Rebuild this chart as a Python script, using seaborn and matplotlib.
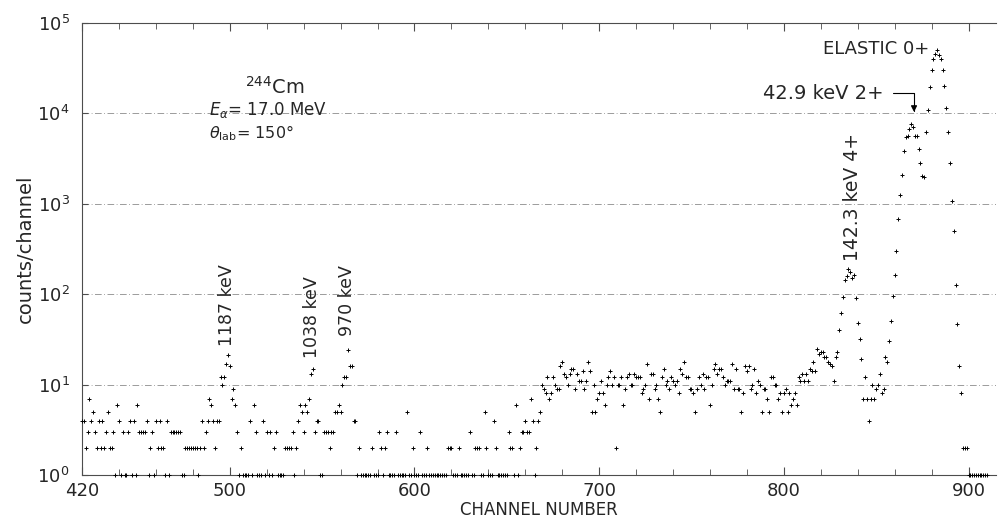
import numpy as np
import pandas as pd
import matplotlib
matplotlib.use("Agg")
import matplotlib.pyplot as plt
from matplotlib.ticker import NullLocator
import seaborn as sns

# counts per channel, starting at channel 420
FIRST_CHANNEL = 420
COUNTS = [
    4, 4, 2, 3, 7, 4, 5, 3, 2, 4,            # 420
    2, 4, 2, 3, 5, 2, 2, 3, 1, 6,            # 430
    4, 1, 3, 1, 1, 3, 4, 1, 4, 1,            # 440
    6, 3, 3, 3, 3, 4, 1, 2, 3, 1,            # 450
    4, 2, 4, 2, 2, 1, 4, 1, 3, 3,            # 460
    3, 3, 3, 3, 1, 1, 2, 2, 2, 2,            # 470
    2, 2, 2, 1, 2, 4, 2, 3, 4, 7,            # 480
    6, 4, 2, 4, 4, 12, 10, 12, 17, 21,       # 490
    16, 7, 9, 6, 3, 1, 2, 1, 1, 1,           # 500
    1, 4, 1, 6, 3, 1, 1, 1, 4, 1,            # 510
    3, 1, 3, 1, 2, 3, 1, 1, 1, 1,            # 520
    2, 2, 2, 2, 3, 1, 2, 4, 6, 5,            # 530
    3, 6, 5, 7, 13, 15, 3, 4, 4, 1,          # 540
    1, 3, 3, 3, 2, 3, 3, 5, 5, 6,            # 550
    5, 10, 12, 12, 24, 16, 16, 4, 4, 1,      # 560
    2, 1, 1, 1, 1, 1, 1, 2, 1, 1,            # 570
    1, 3, 2, 1, 2, 3, 1, 1, 1, 1,            # 580
    3, 1, 1, 1, 1, 1, 5, 1, 1, 2,            # 590
    1, 1, 1, 3, 1, 1, 1, 2, 1, 1,            # 600
    1, 1, 1, 1, 1, 1, 1, 1, 2, 2,            # 610
    2, 1, 1, 1, 2, 1, 1, 1, 1, 1,            # 620
    3, 1, 1, 2, 2, 2, 1, 1, 5, 2,            # 630
    1, 1, 1, 4, 2, 1, 1, 1, 1, 1,            # 640
    1, 3, 2, 2, 1, 6, 1, 2, 3, 3,            # 650
    4, 3, 3, 7, 4, 1, 2, 4, 5, 10,           # 660
    9, 8, 12, 7, 8, 12, 10, 9, 9, 16,        # 670
    18, 13, 12, 10, 13, 15, 15, 9, 13, 11,   # 680
    11, 14, 9, 11, 18, 14, 5, 10, 5, 7,      # 690
    8, 11, 8, 6, 10, 12, 14, 10, 12, 2,      # 700
    10, 10, 12, 6, 9, 12, 13, 10, 10, 13,    # 710
    12, 12, 12, 8, 9, 10, 17, 7, 13, 13,     # 720
    9, 10, 7, 5, 12, 15, 10, 11, 9, 12,      # 730
    11, 10, 11, 8, 15, 13, 18, 12, 12, 9,    # 740
    9, 8, 5, 9, 12, 10, 13, 9, 12, 12,       # 750
    6, 10, 15, 17, 13, 15, 15, 12, 10, 11,   # 760
    11, 11, 17, 9, 15, 9, 9, 5, 8, 16,       # 770
    14, 16, 9, 10, 15, 8, 11, 10, 5, 9,      # 780
    9, 7, 5, 12, 12, 10, 10, 7, 8, 5,        # 790
    8, 9, 5, 8, 6, 7, 8, 6, 12, 11,          # 800
    13, 11, 13, 11, 15, 14, 18, 14, 25, 22,  # 810
    23, 23, 20, 20, 18, 17, 16, 11, 20, 23,  # 820
    40, 62, 93, 145, 160, 190, 175, 150, 165, 90,        # 830
    48, 32, 19, 7, 12, 7, 4, 7, 10, 7,                   # 840
    9, 10, 13, 8, 9, 20, 18, 30, 51, 96,                 # 850
    165, 300, 680, 1250, 2100, 3800, 5500, 5700, 6800, 7600,          # 860
    7100, 5700, 5600, 4000, 2800, 2050, 2000, 6300, 11000, 19500,     # 870
    30000, 40000, 45000, 50000, 44000, 40000, 30000, 20000, 11500, 6300,  # 880
    2800, 1070, 500, 125, 47, 16, 8, 2, 2, 2,            # 890
    1, 1, 1, 1, 1, 1, 1, 1, 1, 1, 1,                     # 900
]
CHANNELS = np.arange(FIRST_CHANNEL, FIRST_CHANNEL + len(COUNTS))

X_TICKS = [420, 500, 600, 700, 800, 900]
X_MINOR = list(range(440, 915, 20))
Y_TICKS = [1, 10, 100, 1000, 10000, 100000]

sns.set_style("ticks")
plt.rcParams["font.family"] = ["DejaVu Sans"]
plt.rcParams["mathtext.fontset"] = "dejavusans"

df = pd.DataFrame({"channel": CHANNELS, "counts": COUNTS})

fig = plt.figure(figsize=(9.98, 5.2), dpi=100)
ax = fig.add_axes([0.0822, 0.0865, 0.916, 0.8692])

sns.scatterplot(data=df, x="channel", y="counts", marker="+", s=11,
                color="black", linewidth=0.7, ax=ax, legend=False,
                clip_on=False, zorder=3)

ax.set_yscale("log")
ax.set_xlim(420, 915)
ax.set_ylim(1, 1e5)

ax.set_xticks(X_TICKS)
ax.set_xticks(X_MINOR, minor=True)
ax.set_yticks(Y_TICKS)
ax.yaxis.set_minor_locator(NullLocator())
ax.tick_params(axis="x", which="both", direction="in", top=True,
               labeltop=False, labelsize=13, pad=5, color="0.3")
ax.tick_params(axis="x", which="major", length=6)
ax.tick_params(axis="x", which="minor", length=4)
ax.tick_params(axis="y", which="major", direction="in", length=4,
               labelsize=13, pad=9, color="0.3")

ax.grid(axis="y", which="major", color="0.55", lw=0.6,
        ls=(0, (8, 3, 1, 3)))
ax.spines["right"].set_visible(False)
for side in ["left", "top", "bottom"]:
    ax.spines[side].set_linewidth(0.8)
    ax.spines[side].set_color("0.3")

ax.set_xlabel("CHANNEL NUMBER", fontsize=12, labelpad=1)
ax.set_ylabel("counts/channel", fontsize=14, labelpad=2)

# ── annotations ───────────────────────────────
ax.text(878.5, 10**4.71, "ELASTIC 0+", fontsize=13, ha="right", va="center")
ax.text(854, 10**4.226, "42.9 keV 2+", fontsize=14, ha="right", va="center")
ax.annotate("", xy=(870.5, 10**3.985), xytext=(857.5, 10**4.226),
            arrowprops=dict(arrowstyle="-|>", color="black", lw=0.8,
                            mutation_scale=9,
                            connectionstyle="angle,angleA=0,angleB=90,rad=0"))
ax.text(837, 10**3.075, "142.3 keV 4+", fontsize=13.5, rotation=90,
        ha="center", va="center")
ax.text(498.5, 10**1.88, "1187 keV", fontsize=12.5, rotation=90,
        ha="center", va="center")
ax.text(544.6, 10**1.75, "1038 keV", fontsize=12.5, rotation=90,
        ha="center", va="center")
ax.text(563.6, 10**1.93, "970 keV", fontsize=12.5, rotation=90,
        ha="center", va="center")

ax.text(524.5, 10**4.29, r"$^{244}$Cm", fontsize=14, ha="center", va="center")
ax.text(488.5, 10**4.04, r"$E_\alpha$= 17.0 MeV", fontsize=12, ha="left", va="center")
ax.text(488.5, 10**3.78, r"$\theta_{\rm lab}$= 150°", fontsize=11.5, ha="left", va="center")

plt.savefig("out.png", dpi=100)
plt.close()
